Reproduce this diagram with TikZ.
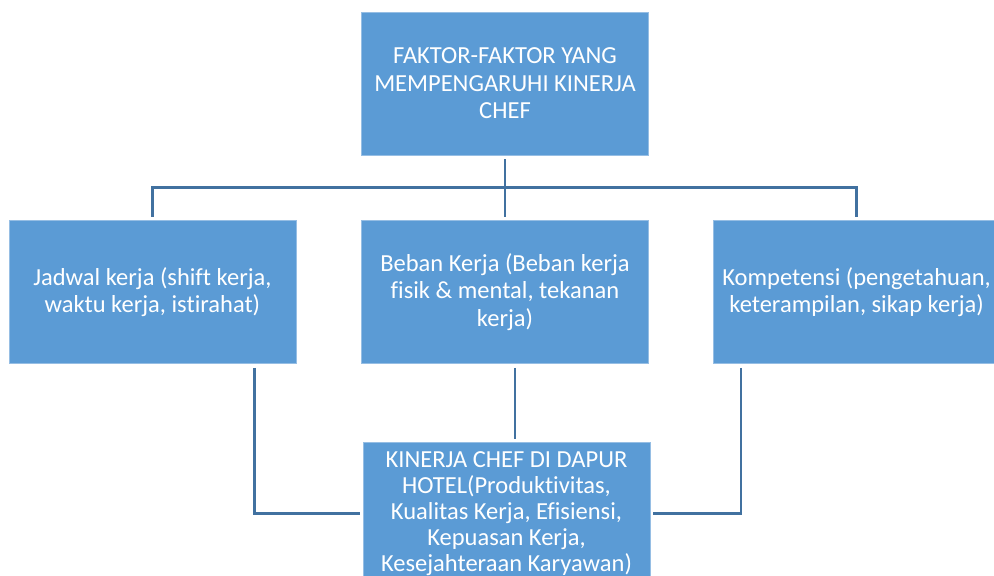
\documentclass[tikz,border=0pt]{standalone}
\usepackage{fontspec}
\setmainfont{Carlito}[Ligatures=NoCommon]
\usetikzlibrary{positioning}

\definecolor{boxblue}{RGB}{91,155,213}
\definecolor{boxedge}{RGB}{150,190,228}
\definecolor{linkblue}{RGB}{65,113,160}

\tikzset{
  box/.style={rectangle, fill=boxblue, draw=boxedge, line width=0.6pt,
    minimum width=287pt, minimum height=143pt, inner sep=0pt,
    align=center, text=white, font=\fontsize{24.5}{27.5}\selectfont},
  link/.style={draw=linkblue, line width=2.6pt, shorten <=4pt, shorten >=3pt}
}

\begin{document}
\begin{tikzpicture}[x=1pt,y=-1pt]
  \useasboundingbox (0,0) rectangle (994,576);
  \clip (0,0) rectangle (994,576);

  \node[box] (faktor) at (505,83.5) {FAKTOR-FAKTOR YANG\\MEMPENGARUHI KINERJA\\CHEF};
  \node[box, below=65pt of faktor] (beban) {Beban Kerja (Beban kerja\\fisik \& mental, tekanan\\kerja)};
  \node[box, left=65pt of beban] (jadwal) {Jadwal kerja (shift kerja,\\waktu kerja, istirahat)};
  \node[box, right=64pt of beban] (kompetensi) {Kompetensi (pengetahuan,\\keterampilan, sikap kerja)};
  \node[box, below=78pt of beban, xshift=1.5pt, font=\fontsize{24.5}{26}\selectfont] (kinerja) {KINERJA CHEF DI DAPUR\\HOTEL(Produktivitas,\\Kualitas Kerja, Efisiensi,\\Kepuasan Kerja,\\Kesejahteraan Karyawan)};

  % faktor ke tiga faktor
  \coordinate[below=32pt of faktor.south] (bus);
  \draw[link] (faktor) -- (beban);
  \draw[link, shorten <=0pt] (bus) -| (jadwal.north);
  \draw[link, shorten <=0pt] (bus) -| (kompetensi.north);

  % tiga faktor ke kinerja
  \draw[link] ([xshift=-42pt]jadwal.south east) |- (kinerja.west);
  \draw[link] ([xshift=10pt]beban.south) -- ([xshift=8.5pt]kinerja.north);
  \draw[link] ([xshift=28pt]kompetensi.south west) |- (kinerja.east);
\end{tikzpicture}
\end{document}
